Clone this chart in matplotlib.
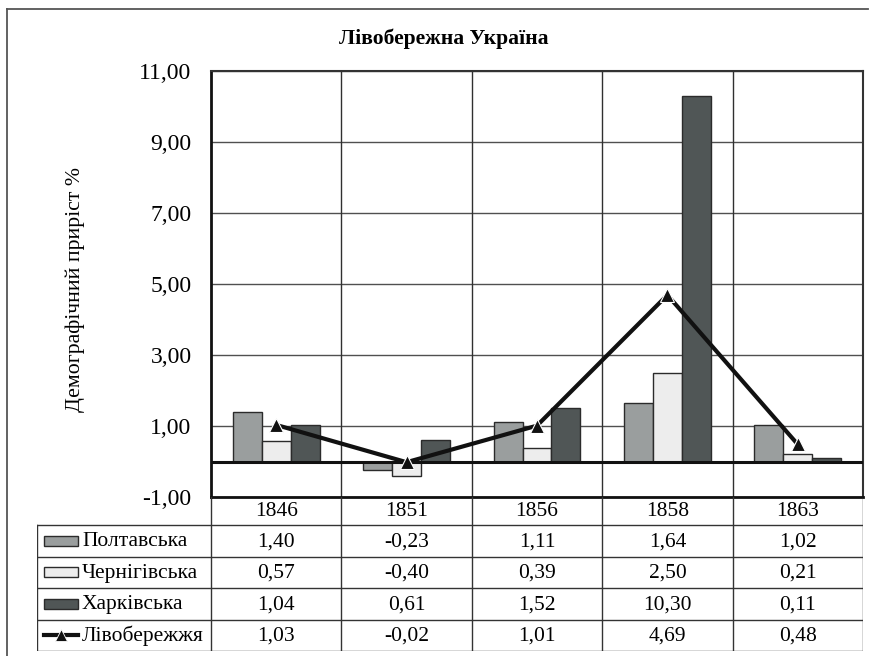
import matplotlib
matplotlib.use("Agg")
import matplotlib.pyplot as plt
from matplotlib.patches import Rectangle
from matplotlib.lines import Line2D

plt.rcParams["font.family"] = ["Liberation Serif", "DejaVu Serif"]

TITLE = "Лівобережна Україна"
YLABEL = "Демографічний приріст %"
YEARS = ["1846", "1851", "1856", "1858", "1863"]
SERIES = ["Полтавська", "Чернігівська", "Харківська"]
poltava = [1.40, -0.23, 1.11, 1.64, 1.02]
chernihiv = [0.57, -0.40, 0.39, 2.50, 0.21]
kharkiv = [1.04, 0.61, 1.52, 10.30, 0.11]
LINE_NAME = "Лівобережжя"
livoberezhzhia = [1.03, -0.02, 1.01, 4.69, 0.48]
YTICKS = [-1, 1, 3, 5, 7, 9, 11]

BAR_COLORS = ["#9a9e9e", "#ededed", "#505656"]
EDGE = "#2b2b2b"
GRID = "#505050"

W, H = 877, 656


def fx(px):
    return px / W


def fy(py):
    return 1 - py / H


def fmt(v):
    return f"{v:.2f}".replace(".", ",")


fig = plt.figure(figsize=(W / 100, H / 100), dpi=100)

# outer chart frame (left and top edges visible)
fig.add_artist(Line2D([fx(7), fx(7)], [fy(9), fy(656)], color="#555555", lw=1.3))
fig.add_artist(Line2D([fx(7), fx(868)], [fy(9), fy(9)], color="#555555", lw=1.3))

L, R, T, B = 211, 863, 71, 497
ax = fig.add_axes([fx(L), fy(B), fx(R) - fx(L), fy(T) - fy(B)])
x = list(range(len(YEARS)))
bw = 0.222
for k, (vals, col) in enumerate(zip([poltava, chernihiv, kharkiv], BAR_COLORS)):
    ax.bar([i + (k - 1) * bw for i in x], vals, width=bw, color=col,
           edgecolor=EDGE, linewidth=1.0, zorder=3)
ax.plot(x, livoberezhzhia, color="#111111", lw=3, marker="^", ms=10,
        mfc="#111111", mec="white", mew=0.8, zorder=5)

ax.set_xlim(-0.5, len(YEARS) - 0.5)
ax.set_ylim(-1, 11)
ax.set_yticks(YTICKS)
ax.set_yticklabels([fmt(v) for v in YTICKS], fontsize=17)
ax.tick_params(axis="y", length=0, pad=14)
ax.set_xticks([])
for yv in YTICKS:
    ax.axhline(yv, color=GRID, lw=1.0, zorder=1)
for i in range(1, len(YEARS)):
    ax.axvline(i - 0.5, color="#303030", lw=1.0, zorder=1)
ax.axhline(0, color="#111111", lw=2.2, zorder=4)
ax.spines["left"].set_linewidth(2.0)
ax.spines["left"].set_color("#111111")
ax.spines["bottom"].set_linewidth(2.0)
ax.spines["bottom"].set_color("#111111")
for s in ("top", "right"):
    ax.spines[s].set_linewidth(1.5)
    ax.spines[s].set_color("#333333")

fig.text(fx(444), fy(39), TITLE, ha="center", va="center", fontsize=15.6,
         fontweight="bold")
fig.text(fx(75), fy(289), YLABEL, ha="center", va="center", rotation=90,
         fontsize=15.7)

# data table below the plot
TL = 37
HDR_B = 525
ROW_H = 31.5
TB = HDR_B + 4 * ROW_H
tax = fig.add_axes([fx(TL), fy(TB), fx(R) - fx(TL), fy(B) - fy(TB)])
tax.set_xlim(TL, R)
tax.set_ylim(TB, B)
tax.axis("off")
col_w = (R - L) / len(YEARS)
lc = "#333333"
FS = 15.5
# header row
for i, yr in enumerate(YEARS):
    tax.text(L + (i + 0.5) * col_w, (B + HDR_B) / 2 + 1, yr, ha="center",
             va="center", fontsize=FS)
for i in range(len(YEARS) + 1):
    tax.plot([L + i * col_w, L + i * col_w], [B, TB], color=lc, lw=1.0)
tax.plot([TL, TL], [HDR_B, TB], color=lc, lw=1.0)
tax.plot([TL, R], [TB, TB], color=lc, lw=1.0)
for r in range(4):
    tax.plot([TL, R], [HDR_B + r * ROW_H, HDR_B + r * ROW_H], color=lc, lw=1.0)

rows = [poltava, chernihiv, kharkiv, livoberezhzhia]
names = SERIES + [LINE_NAME]
for r, (name, vals) in enumerate(zip(names, rows)):
    yc = HDR_B + (r + 0.5) * ROW_H
    if r < 3:
        tax.add_patch(Rectangle((44, yc - 5), 34, 10, facecolor=BAR_COLORS[r],
                                edgecolor=EDGE, lw=1.0))
    else:
        tax.plot([44, 78], [yc, yc], color="#111111", lw=3)
        tax.plot([61], [yc], marker="^", ms=8, color="#111111", mec="white",
                 mew=0.6)
    tax.text(82, yc + 1, name, ha="left", va="center", fontsize=FS)
    for i, v in enumerate(vals):
        tax.text(L + (i + 0.5) * col_w, yc + 1, fmt(v), ha="center",
                 va="center", fontsize=FS)

fig.savefig("out.png", dpi=100, facecolor="white")
